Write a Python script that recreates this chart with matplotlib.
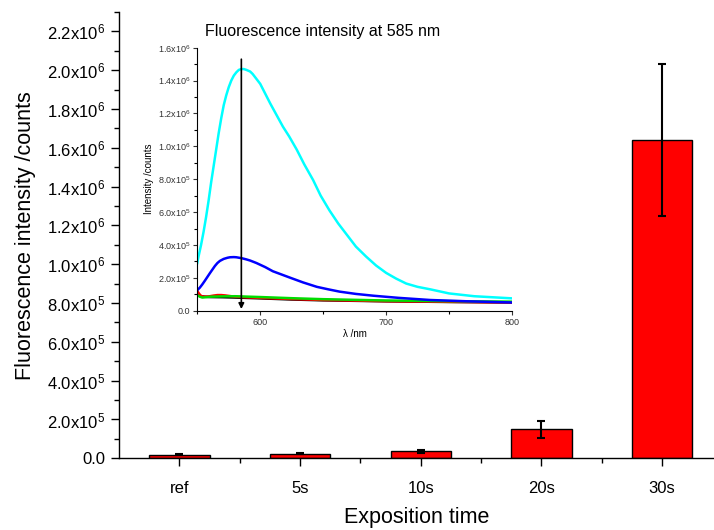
import numpy as np
import matplotlib
matplotlib.use("Agg")
import matplotlib.pyplot as plt
from matplotlib.ticker import FuncFormatter, MultipleLocator, FixedLocator

# -- Fonts --------------------------------------------------------------------
plt.rcParams['font.family'] = ['Liberation Sans', 'DejaVu Sans']
plt.rcParams['mathtext.fontset'] = 'custom'
plt.rcParams['mathtext.rm'] = 'Liberation Sans'
plt.rcParams['mathtext.it'] = 'Liberation Sans:italic'
plt.rcParams['mathtext.bf'] = 'Liberation Sans:bold'

# -- Bar data (main plot) -----------------------------------------------------
categories = ['ref', '5s', '10s', '20s', '30s']
intensity = [1.9e4, 2.3e4, 3.5e4, 1.49e5, 1.64e6]
errors = [3e3, 3e3, 1.0e4, 4.3e4, 3.9e5]

# -- Spectra data (inset) -----------------------------------------------------
wl_cyan = [550, 551, 553, 555, 557, 559, 561, 563, 565, 567, 569, 571, 573, 575,
           577, 579, 581, 583, 585, 587, 589, 592, 594, 596, 600, 604, 608, 613,
           618, 623, 629, 635, 642, 648, 655, 662, 669, 676, 684, 692, 700, 708,
           716, 725, 735, 750, 770, 800]
int_cyan = [2.9e5, 3.3e5, 4.0e5, 4.8e5, 5.7e5, 6.7e5, 7.8e5, 8.8e5, 9.8e5, 1.08e6,
            1.17e6, 1.25e6, 1.31e6, 1.36e6, 1.40e6, 1.43e6, 1.45e6, 1.465e6, 1.47e6,
            1.47e6, 1.465e6, 1.455e6, 1.44e6, 1.42e6, 1.38e6, 1.32e6, 1.26e6, 1.19e6,
            1.12e6, 1.06e6, 9.8e5, 8.9e5, 7.95e5, 7.0e5, 6.1e5, 5.3e5, 4.6e5, 3.9e5,
            3.3e5, 2.75e5, 2.3e5, 1.95e5, 1.65e5, 1.45e5, 1.3e5, 1.05e5, 8.8e4, 7.5e4]

wl_blue = [550, 552, 554, 556, 558, 560, 562, 564, 566, 568, 571, 574, 576, 579,
           581, 584, 586, 589, 592, 597, 604, 610, 617, 624, 634, 645, 654, 663,
           676, 690, 710, 735, 765, 800]
int_blue = [1.25e5, 1.4e5, 1.6e5, 1.82e5, 2.05e5, 2.28e5, 2.5e5, 2.72e5, 2.9e5,
            3.03e5, 3.15e5, 3.22e5, 3.25e5, 3.26e5, 3.25e5, 3.21e5, 3.18e5, 3.12e5,
            3.05e5, 2.9e5, 2.65e5, 2.4e5, 2.2e5, 2.0e5, 1.72e5, 1.45e5, 1.3e5,
            1.16e5, 1.02e5, 9.1e4, 7.8e4, 6.5e4, 5.7e4, 5.0e4]

wl_red = [550, 551, 552, 553, 555, 558, 560, 563, 566, 569, 572, 576, 580, 590,
          600, 625, 650, 700, 750, 800]
int_red = [1.2e5, 1.08e5, 9.8e4, 9.0e4, 8.5e4, 8.6e4, 8.8e4, 9.2e4, 9.5e4, 9.5e4,
           9.3e4, 8.9e4, 8.5e4, 8.1e4, 7.8e4, 7.1e4, 6.5e4, 5.8e4, 5.4e4, 5.0e4]

wl_black = [550, 551, 553, 556, 560, 570, 580, 600, 625, 650, 700, 750, 800]
int_black = [1.05e5, 9.6e4, 8.8e4, 8.5e4, 8.3e4, 8.2e4, 8.0e4, 7.5e4, 6.8e4, 6.3e4,
             5.7e4, 5.3e4, 5.0e4]

wl_green = [550, 552, 554, 557, 560, 570, 580, 600, 625, 650, 700, 750, 800]
int_green = [9.5e4, 8.5e4, 8.0e4, 8.2e4, 8.5e4, 8.7e4, 8.8e4, 8.3e4, 7.6e4, 7.0e4,
             6.2e4, 5.8e4, 5.5e4]


def sci_label(v, pos):
    # Origin style tick labels: 0.0, 2.0x10^5, 1.2x10^6 ...
    if v == 0:
        return '0.0'
    exp = int(np.floor(np.log10(abs(v))))
    mant = v / 10 ** exp
    return '%.1fx10$^{%d}$' % (mant, exp)


fig = plt.figure(figsize=(7.14, 5.30), dpi=100)

# -- Main bar chart -----------------------------------------------------------
ax = fig.add_axes([0.1667, 0.1353, 0.8333, 0.8421])
x = np.arange(len(categories))
ax.bar(x, intensity, width=0.5, color='#ff0000', edgecolor='black', linewidth=1.0, zorder=2)
ax.errorbar(x, intensity, yerr=errors, fmt='none', ecolor='black', elinewidth=1.5,
            capsize=3, capthick=1.5, zorder=3)

ax.set_xlim(-0.5, 4.43)
ax.set_ylim(0, 2.30e6)
for s in ['top', 'right']:
    ax.spines[s].set_visible(False)
ax.spines['left'].set_linewidth(1.0)
ax.spines['bottom'].set_linewidth(1.0)

ax.set_xticks(x)
ax.set_xticklabels(categories)
ax.xaxis.set_minor_locator(FixedLocator([0.5, 1.5, 2.5, 3.5]))
ax.yaxis.set_major_locator(MultipleLocator(2e5))
ax.yaxis.set_minor_locator(MultipleLocator(1e5))
ax.yaxis.set_major_formatter(FuncFormatter(sci_label))
ax.tick_params(axis='both', which='major', direction='out', length=6, width=1.0,
               labelsize=12, pad=4)
ax.tick_params(axis='both', which='minor', direction='out', length=3.5, width=1.0)
ax.tick_params(axis='x', which='major', pad=10)

ax.set_xlabel('Exposition time', fontsize=15.5, labelpad=8)
ax.set_ylabel('Fluorescence intensity /counts', fontsize=15.5, labelpad=8)

# -- Inset: emission spectra --------------------------------------------------
ax_in = fig.add_axes([0.2763, 0.4138, 0.4408, 0.4962])
ax_in.plot(wl_black, int_black, color='black', lw=1.8)
ax_in.plot(wl_red, int_red, color='#ff0000', lw=1.8)
ax_in.plot(wl_green, int_green, color='#00dd00', lw=1.8)
ax_in.plot(wl_blue, int_blue, color='#0000ff', lw=1.8)
ax_in.plot(wl_cyan, int_cyan, color='#00ffff', lw=1.8)

# arrow marking 585 nm
ax_in.annotate('', xy=(585, 1.0e4), xytext=(585, 1.53e6),
               arrowprops=dict(arrowstyle='-|>', color='black', lw=1.2,
                               mutation_scale=8, shrinkA=0, shrinkB=0))

ax_in.set_xlim(550, 800)
ax_in.set_ylim(0, 1.6e6)
for s in ['top', 'right']:
    ax_in.spines[s].set_visible(False)
ax_in.xaxis.set_major_locator(MultipleLocator(100))
ax_in.xaxis.set_minor_locator(MultipleLocator(50))
ax_in.yaxis.set_major_locator(MultipleLocator(2e5))
ax_in.yaxis.set_minor_locator(MultipleLocator(1e5))
ax_in.yaxis.set_major_formatter(FuncFormatter(sci_label))
ax_in.tick_params(axis='both', which='major', direction='out', length=3, width=0.8,
                  labelsize=6.5, pad=2, colors='#333333')
ax_in.tick_params(axis='both', which='minor', direction='out', length=2, width=0.8)
ax_in.set_xlabel('λ /nm', fontsize=7, labelpad=2)
ax_in.set_ylabel('Intensity /counts', fontsize=7, labelpad=3)

fig.text(0.287, 0.9415, 'Fluorescence intensity at 585 nm', fontsize=11.5,
         ha='left', va='center')

fig.savefig('out.png', dpi=100)
